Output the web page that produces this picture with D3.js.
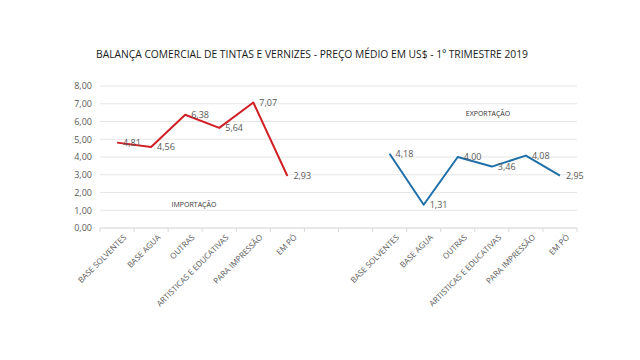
<!DOCTYPE html>
<html><head><meta charset="utf-8">
<script src="https://cdn.jsdelivr.net/npm/d3@7"></script>
<style>body{margin:0;background:#fff}svg{display:block}text{font-family:"Open Sans",Lato,sans-serif}</style>
</head><body><svg id="c" width="640" height="360"></svg>
<script>
const title = "BALANÇA COMERCIAL DE TINTAS E VERNIZES - PREÇO MÉDIO EM US$ -  1º TRIMESTRE 2019";
const categories = ["BASE SOLVENTES","BASE AGUA","OUTRAS","ARTISTICAS E EDUCATIVAS","PARA IMPRESSÃO","EM PÓ"];
const importacao = [4.81, 4.56, 6.38, 5.64, 7.07, 2.93];
const exportacao = [4.18, 1.31, 4.00, 3.46, 4.08, 2.95];
const yTicks = [0,1,2,3,4,5,6,7,8];
const gapSlots = 2;

const svg = d3.select("#c");
const fmt = v => d3.format(".2f")(v).replace(".", ",");

const slots = [];
categories.forEach((c,i)=>slots.push({key:"i"+i,label:c}));
for(let g=0; g<gapSlots; g++) slots.push({key:"g"+g,label:""});
categories.forEach((c,i)=>slots.push({key:"e"+i,label:c}));

const x = d3.scaleBand().domain(slots.map(s=>s.key)).range([100,577]);
const y = d3.scaleLinear().domain([0,8]).range([228,86]);

svg.append("text").attr("x",312).attr("y",58).attr("text-anchor","middle")
  .attr("font-size",11).attr("fill","#1a1a1a").attr("textLength",432).attr("lengthAdjust","spacingAndGlyphs").text(title);

// gridlines
svg.append("g").selectAll("line").data(yTicks).join("line")
  .attr("x1",100).attr("x2",577).attr("y1",d=>y(d)).attr("y2",d=>y(d))
  .attr("stroke",d=>d===0?"#d0d0d0":"#e6e6e6").attr("stroke-width",1);

// y axis labels
const ya = svg.append("g").attr("transform","translate(100,0)")
  .call(d3.axisLeft(y).tickValues(yTicks).tickFormat(fmt).tickSize(0).tickPadding(8));
ya.select(".domain").remove();
ya.selectAll("text").attr("font-size",9).attr("fill","#595959").attr("font-family","'Open Sans',sans-serif");

// x axis ticks between categories
const xa = svg.append("g").attr("transform",`translate(0,${y(0)})`)
  .call(d3.axisBottom(x).tickSize(0).tickFormat(k=>slots.find(s=>s.key===k).label).tickPadding(6));
xa.select(".domain").remove();
xa.selectAll("text").attr("font-size",8).attr("fill","#595959")
  .attr("text-anchor","end").attr("dy","0.3em")
  .attr("transform","translate(4,4) rotate(-45)");
svg.append("g").selectAll("line").data(d3.range(slots.length+1)).join("line")
  .attr("x1",d=>100+d*x.step()).attr("x2",d=>100+d*x.step())
  .attr("y1",y(0)).attr("y2",y(0)+4).attr("stroke","#d9d9d9");

const line = d3.line().x(d=>x(d.k)+x.bandwidth()/2).y(d=>y(d.v));
const impData = importacao.map((v,i)=>({k:"i"+i,v}));
const expData = exportacao.map((v,i)=>({k:"e"+i,v}));

function series(data,color){
  svg.append("path").datum(data).attr("d",line).attr("fill","none")
    .attr("stroke",color).attr("stroke-width",2).attr("stroke-linejoin","round");
  svg.append("g").selectAll("text").data(data).join("text")
    .attr("x",d=>x(d.k)+x.bandwidth()/2+6).attr("y",d=>y(d.v)).attr("dy","0.35em")
    .attr("font-size",9).attr("fill","#595959").text(d=>fmt(d.v));
}
series(impData,"#d11f26");
series(expData,"#1f6fa8");

svg.append("text").attr("x",194).attr("y",207).attr("text-anchor","middle")
  .attr("font-size",7).attr("fill","#333").text("IMPORTAÇÃO");
svg.append("text").attr("x",488).attr("y",116).attr("text-anchor","middle")
  .attr("font-size",7).attr("fill","#333").text("EXPORTAÇÃO");
</script></body></html>
